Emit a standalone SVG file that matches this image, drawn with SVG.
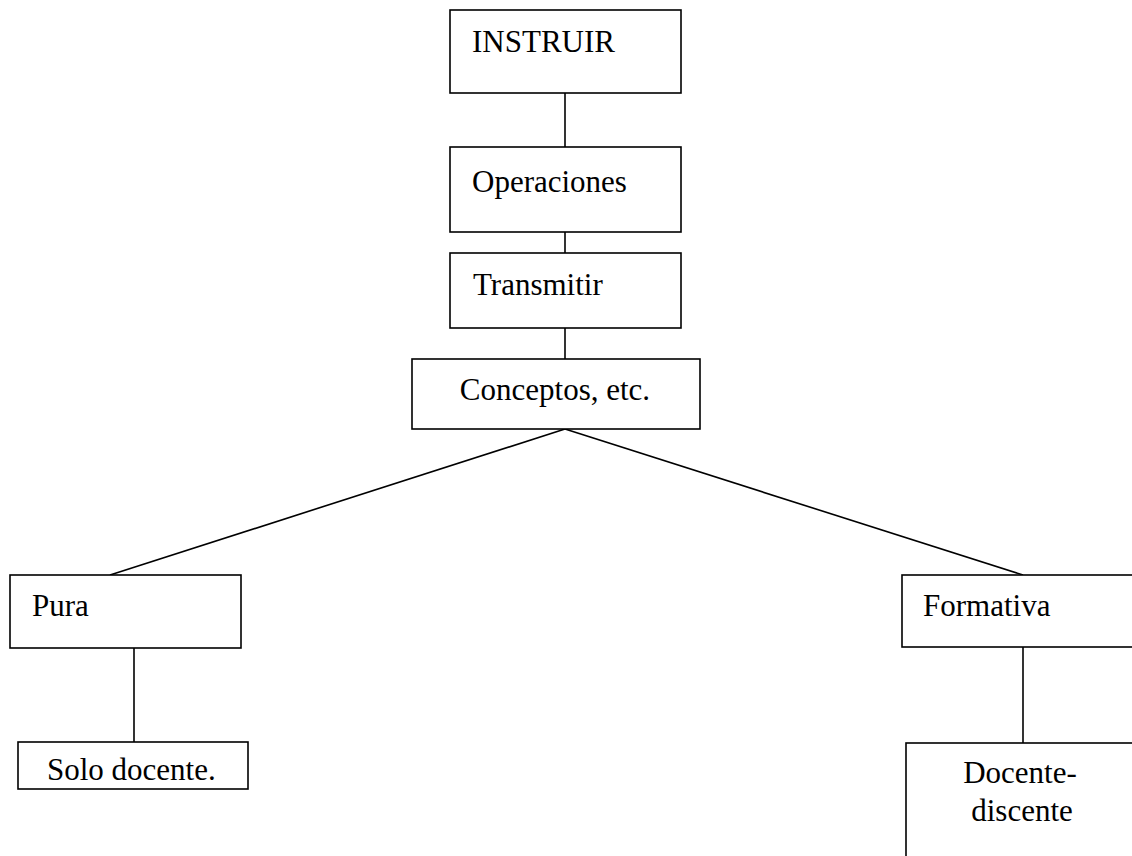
<svg xmlns="http://www.w3.org/2000/svg" width="1132" height="856" viewBox="0 0 1132 856">
<style>
.box{fill:#fff;stroke:#000;stroke-width:1.6}
.lbl{font-family:"Liberation Serif","Times New Roman",serif;font-size:31px;fill:#000}
.c{text-anchor:middle}
#connectors line{stroke:#000;stroke-width:1.6}
</style>
<rect width="1132" height="856" fill="#fff"/>
<g id="connectors">
<line x1="565" y1="93" x2="565" y2="147"/>
<line x1="565" y1="232" x2="565" y2="253"/>
<line x1="565" y1="328" x2="565" y2="359"/>
<line x1="565" y1="429" x2="110" y2="575"/>
<line x1="565" y1="429" x2="1023" y2="575"/>
<line x1="134" y1="648" x2="134" y2="742"/>
<line x1="1023" y1="647" x2="1023" y2="743"/>
</g>
<g id="instruir"><rect class="box" x="450" y="10" width="231" height="83"/><text class="lbl" x="472" y="52">INSTRUIR</text></g>
<g id="operaciones"><rect class="box" x="450" y="147" width="231" height="85"/><text class="lbl" x="472" y="192">Operaciones</text></g>
<g id="transmitir"><rect class="box" x="450" y="253" width="231" height="75"/><text class="lbl" x="473" y="295">Transmitir</text></g>
<g id="conceptos"><rect class="box" x="412" y="359" width="288" height="70"/><text class="lbl c" x="555" y="400">Conceptos, etc.</text></g>
<g id="pura"><rect class="box" x="10" y="575" width="231" height="73"/><text class="lbl" x="32" y="616">Pura</text></g>
<g id="solo"><rect class="box" x="18" y="742" width="230" height="47"/><text class="lbl" x="47" y="780">Solo docente.</text></g>
<g id="formativa"><rect class="box" x="902" y="575" width="260" height="72"/><text class="lbl" x="923" y="616">Formativa</text></g>
<g id="docente"><rect class="box" x="906" y="743" width="260" height="140"/><text class="lbl c" x="1020" y="783">Docente-</text><text class="lbl c" x="1022" y="821">discente</text></g>
</svg>
